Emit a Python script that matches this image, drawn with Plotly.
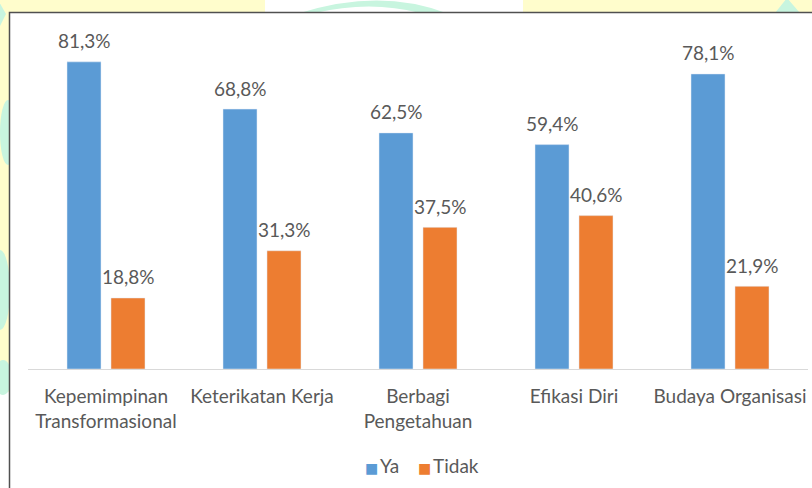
import plotly.graph_objects as go

categories = ["Kepemimpinan<br>Transformasional", "Keterikatan Kerja", "Berbagi<br>Pengetahuan",
              "Efikasi Diri", "Budaya Organisasi"]
ya_values = [81.3, 68.8, 62.5, 59.4, 78.1]
tidak_values = [18.8, 31.3, 37.5, 40.6, 21.9]
series_names = ["Ya", "Tidak"]

BLUE = "#5B9BD5"
ORANGE = "#ED7D31"
TEXT = "#595959"
FONT = "Lato"

W, H = 812, 488
L, R, T, B = 28, 4, 29, 119
PW, PH = W - L - R, H - T - B


def px(x):
    return (x - L) / PW


def py(y):
    return (H - B - y) / PH


fig = go.Figure()
fig.add_trace(go.Bar(name=series_names[0], x=categories, y=ya_values, marker_color=BLUE))
fig.add_trace(go.Bar(name=series_names[1], x=categories, y=tidak_values, marker_color=ORANGE))

annotations = []
for vals, shift in ((ya_values, -22), (tidak_values, 22)):
    for cat, v in zip(categories, vals):
        annotations.append(dict(x=cat, y=v, xref="x", yref="y", text=f"{v:.1f}%".replace(".", ","),
                                showarrow=False, xshift=shift, yshift=21, yanchor="middle",
                                font=dict(family=FONT, size=19, color=TEXT)))

# legend drawn as text annotations (square glyph + name)
legend_x = [365, 418]
for name, color, lx in zip(series_names, (BLUE, ORANGE), legend_x):
    annotations.append(dict(x=px(lx - 2), y=py(466), xref="paper", yref="paper",
                            xanchor="left", yanchor="middle", showarrow=False,
                            text=f"<span style='color:{color};font-family:DejaVu Sans;font-size:14px'>■</span>"
                                 f"<span style='font-size:7px'> </span>{name}",
                            font=dict(family=FONT, size=19, color=TEXT)))

YELLOW = "#FFFDCC"
MINT = "#C8F5DF"
shapes = [
    dict(type="rect", xref="paper", yref="paper", x0=px(265), x1=px(523), y0=py(13), y1=py(-5),
         fillcolor="white", line_width=0, layer="below"),
    dict(type="rect", xref="paper", yref="paper", x0=px(-5), x1=px(12), y0=py(500), y1=py(392),
         fillcolor="white", line_width=0, layer="below"),
    dict(type="path", xref="paper", yref="paper",
         path=f"M {px(300)},{py(13)} Q {px(380)},{py(-12)} {px(446)},{py(13)} L {px(420)},{py(13)} Q {px(370)},{py(0)} {px(315)},{py(13)} Z",
         fillcolor=MINT, line_width=0, layer="below"),
    dict(type="path", xref="paper", yref="paper",
         path=f"M {px(775)},{py(13)} L {px(787)},{py(-2)} L {px(800)},{py(13)} Z",
         fillcolor=MINT, line_width=0, layer="below"),
    dict(type="path", xref="paper", yref="paper",
         path=f"M {px(-2)},{py(0)} L {px(6)},{py(14)} L {px(-2)},{py(30)} Z",
         fillcolor=MINT, line_width=0, layer="below"),
    dict(type="circle", xref="paper", yref="paper", x0=px(0), x1=px(16), y0=py(165), y1=py(100),
         fillcolor=MINT, line_width=0, layer="below"),
    dict(type="circle", xref="paper", yref="paper", x0=px(-10), x1=px(10), y0=py(330), y1=py(250),
         fillcolor=MINT, line_width=0, layer="below"),
    dict(type="circle", xref="paper", yref="paper", x0=px(-6), x1=px(12), y0=py(395), y1=py(360),
         fillcolor=MINT, line_width=0, layer="below"),
    dict(type="rect", xref="paper", yref="paper", x0=px(9.5), x1=px(830), y0=py(520), y1=py(12.5),
         fillcolor="white", line=dict(color="#505050", width=1.5), layer="below"),
]

fig.update_layout(
    width=W, height=H,
    margin=dict(l=L, r=R, t=T, b=B, autoexpand=False),
    paper_bgcolor=YELLOW,
    plot_bgcolor="rgba(0,0,0,0)",
    barmode="group",
    bargap=0.436,
    bargroupgap=0.227,
    font=dict(family=FONT, size=19, color=TEXT),
    showlegend=False,
    annotations=annotations,
    shapes=shapes,
)
fig.update_xaxes(showline=True, linecolor="#D9D9D9", linewidth=1, showgrid=False,
                 ticks="outside", ticklen=10, tickcolor="rgba(0,0,0,0)", automargin=False,
                 tickfont=dict(family=FONT, size=19, color=TEXT), fixedrange=True)
fig.update_yaxes(visible=False, range=[0, 90], showgrid=False, fixedrange=True, automargin=False)

fig.write_html("out.html", config={"displayModeBar": False},
               post_script="document.body.style.margin='0';document.body.style.overflow='hidden';")
